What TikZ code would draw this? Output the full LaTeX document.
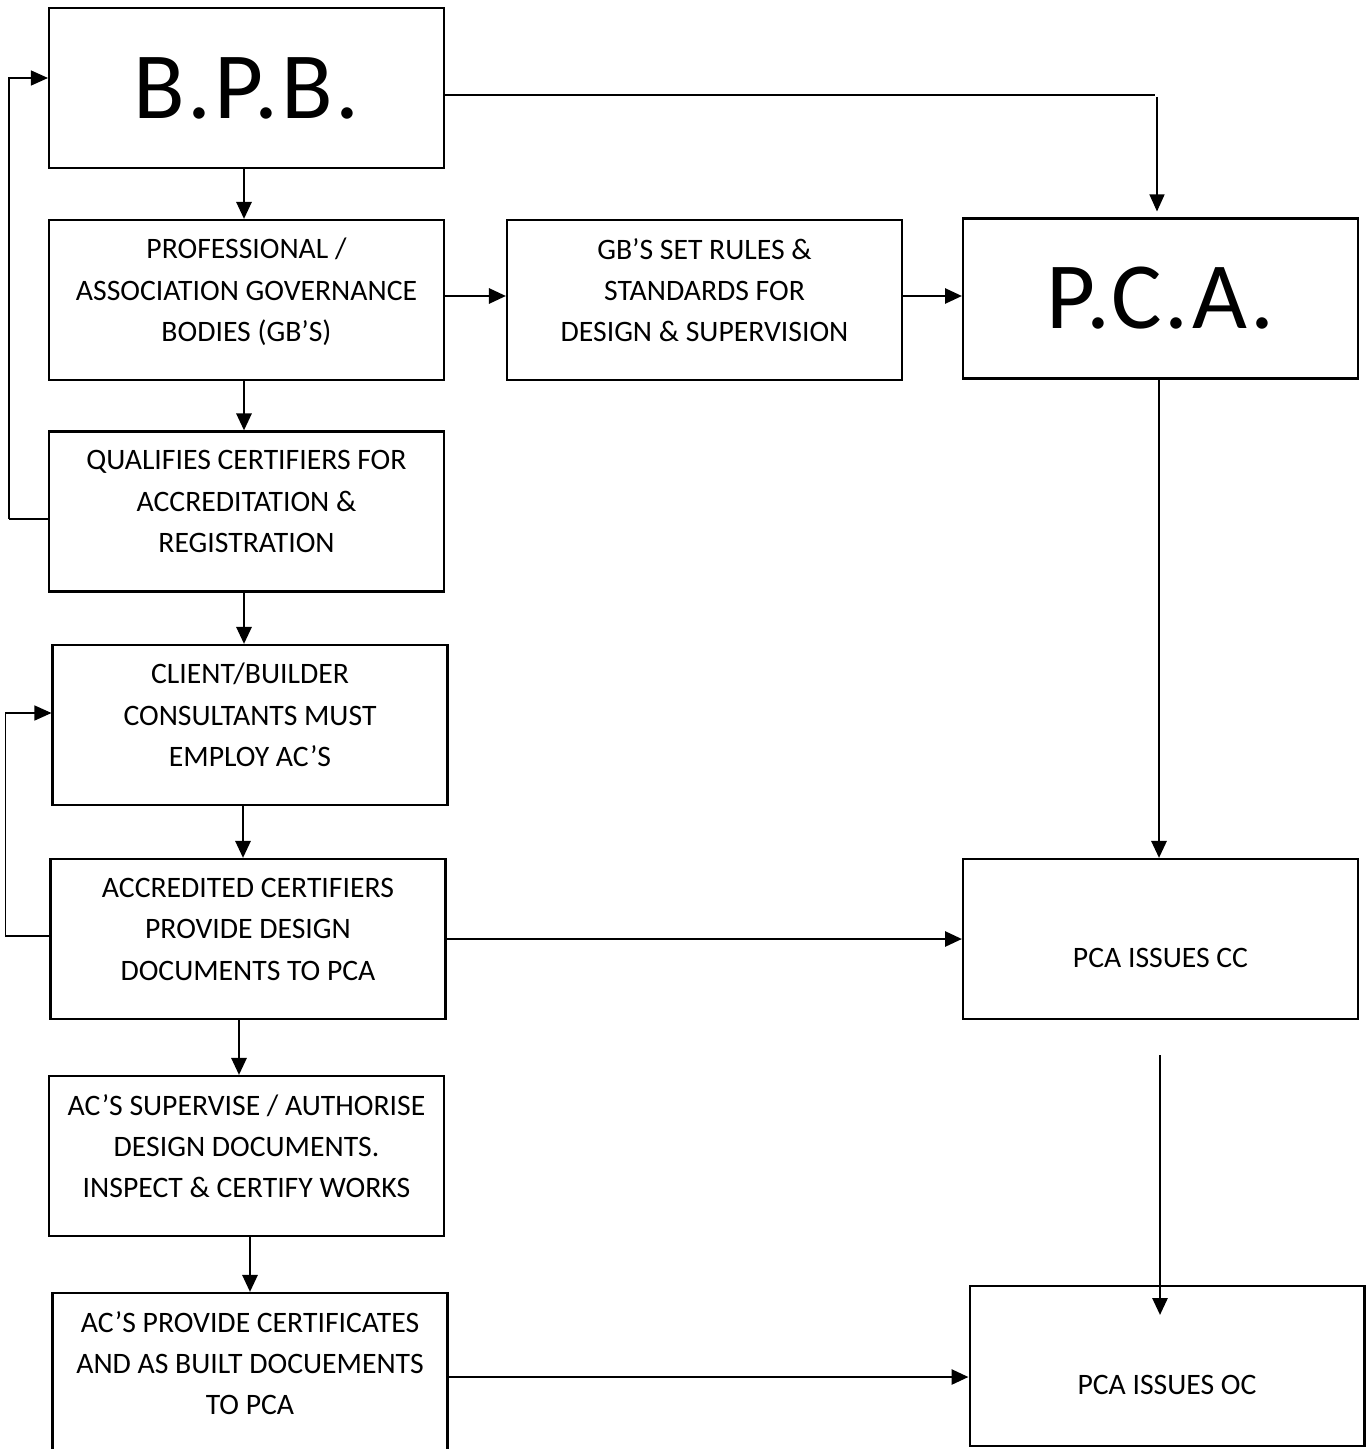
\documentclass[tikz,border=0pt]{standalone}
\usepackage{fontspec}
\setmainfont{Carlito}
\usetikzlibrary{arrows.meta}

\tikzset{
  box/.style={draw, line width=1.2pt, minimum width=7.9cm, minimum height=3.2cm,
    align=center, font=\fontsize{16.9pt}{23.6pt}\selectfont},
  threeline/.style={text depth=0.4cm},
  oneline/.style={text height=1.14cm, text depth=0cm},
  bigtext/.style={font=\fontsize{54pt}{60pt}\selectfont\addfontfeatures{LetterSpace=3}},
  arr/.style={-{Triangle[length=0.34cm, width=0.3cm]}, line width=1.6pt},
  thin/.style={line width=0.7pt}
}

\begin{document}
\begin{tikzpicture}[x=0.02cm, y=-0.02cm]
    \useasboundingbox (0,0) rectangle (1370,1449);
    \clip (0,0) rectangle (1370,1449);

    % Nodes
    \node[box, bigtext] (bpb) at (246.5,88) {B.P.B.};
    \node[box, threeline] (gb) at (246.5,300) {PROFESSIONAL /\\ASSOCIATION GOVERNANCE\\BODIES (GB'S)};
    \node[box, threeline] (qual) at (246.5,511.5) {QUALIFIES CERTIFIERS FOR\\ACCREDITATION \&\\REGISTRATION};
    \node[box, threeline] (client) at (250,725) {CLIENT/BUILDER\\CONSULTANTS MUST\\EMPLOY AC'S};
    \node[box, threeline] (accred) at (248,939) {ACCREDITED CERTIFIERS\\PROVIDE DESIGN\\DOCUMENTS TO PCA};
    \node[box, threeline] (supervise) at (246.5,1156) {AC'S SUPERVISE / AUTHORISE\\DESIGN DOCUMENTS.\\INSPECT \& CERTIFY WORKS};
    \node[box, threeline] (provide) at (250,1373) {AC'S PROVIDE CERTIFICATES\\AND AS BUILT DOCUEMENTS\\TO PCA};
    \node[box, threeline] (rules) at (704.5,300) {GB'S SET RULES \&\\STANDARDS FOR\\DESIGN \& SUPERVISION};
    \node[box, bigtext] (pca) at (1160.5,298.5) {P.C.A.};
    \node[box, oneline] (cc) at (1160.5,939) {PCA ISSUES CC};
    \node[box, oneline] (oc) at (1167,1366) {PCA ISSUES OC};

    \coordinate (bpbcorner) at (1155,95);
    \coordinate (pcadrop) at (1157,97);
    \coordinate (ccout) at (1160,1055);
    \coordinate (ocin) at (1160,1315);

    % Connection
    \draw[arr] ([xshift=-0.05cm]bpb.south) -- ([xshift=-0.05cm]bpb.south |- gb.north);
    \draw[arr] ([xshift=-0.05cm]gb.south) -- ([xshift=-0.05cm]gb.south |- qual.north);
    \draw[arr] ([xshift=-0.05cm]qual.south) -- ([xshift=-0.05cm]qual.south |- client.north);
    \draw[arr] ([xshift=-0.14cm]client.south) -- ([xshift=-0.14cm]client.south |- accred.north);
    \draw[arr] ([xshift=-0.18cm]accred.south) -- ([xshift=-0.18cm]accred.south |- supervise.north);
    \draw[arr] ([xshift=0.07cm]supervise.south) -- ([xshift=0.07cm]supervise.south |- provide.north);
    \draw[arr] ([yshift=0.08cm]gb.east) -- ([yshift=0.08cm]gb.east -| rules.west);
    \draw[arr] ([yshift=0.08cm]rules.east) -- ([yshift=0.08cm]rules.east -| pca.west);
    \draw[arr] (accred.east) -- (accred.east -| cc.west);
    \draw[arr] ([yshift=-0.08cm]provide.east) -- ([yshift=-0.08cm]provide.east -| oc.west);
    \draw[arr] ([xshift=-0.03cm]pca.south) -- ([xshift=-0.03cm]pca.south |- cc.north);
    \draw[arr] (ccout) -- (ocin);
    \draw[thin] (bpb.east |- bpbcorner) -- (bpbcorner);
    \draw[arr, thin, shorten >=0.12cm] (pcadrop) -- (pcadrop |- pca.north);

    % Feedback
    \draw[thin] ([yshift=-0.15cm]qual.west) -- ++(-39,0) coordinate (qualback);
    \draw[arr, thin] (qualback) |- ([yshift=0.2cm]bpb.west);
    \draw[thin] ([yshift=0.06cm]accred.west) -- ++(-44,0) coordinate (accredback);
    \draw[arr, thin] (accredback) |- ([yshift=0.24cm]client.west);
\end{tikzpicture}
\end{document}
